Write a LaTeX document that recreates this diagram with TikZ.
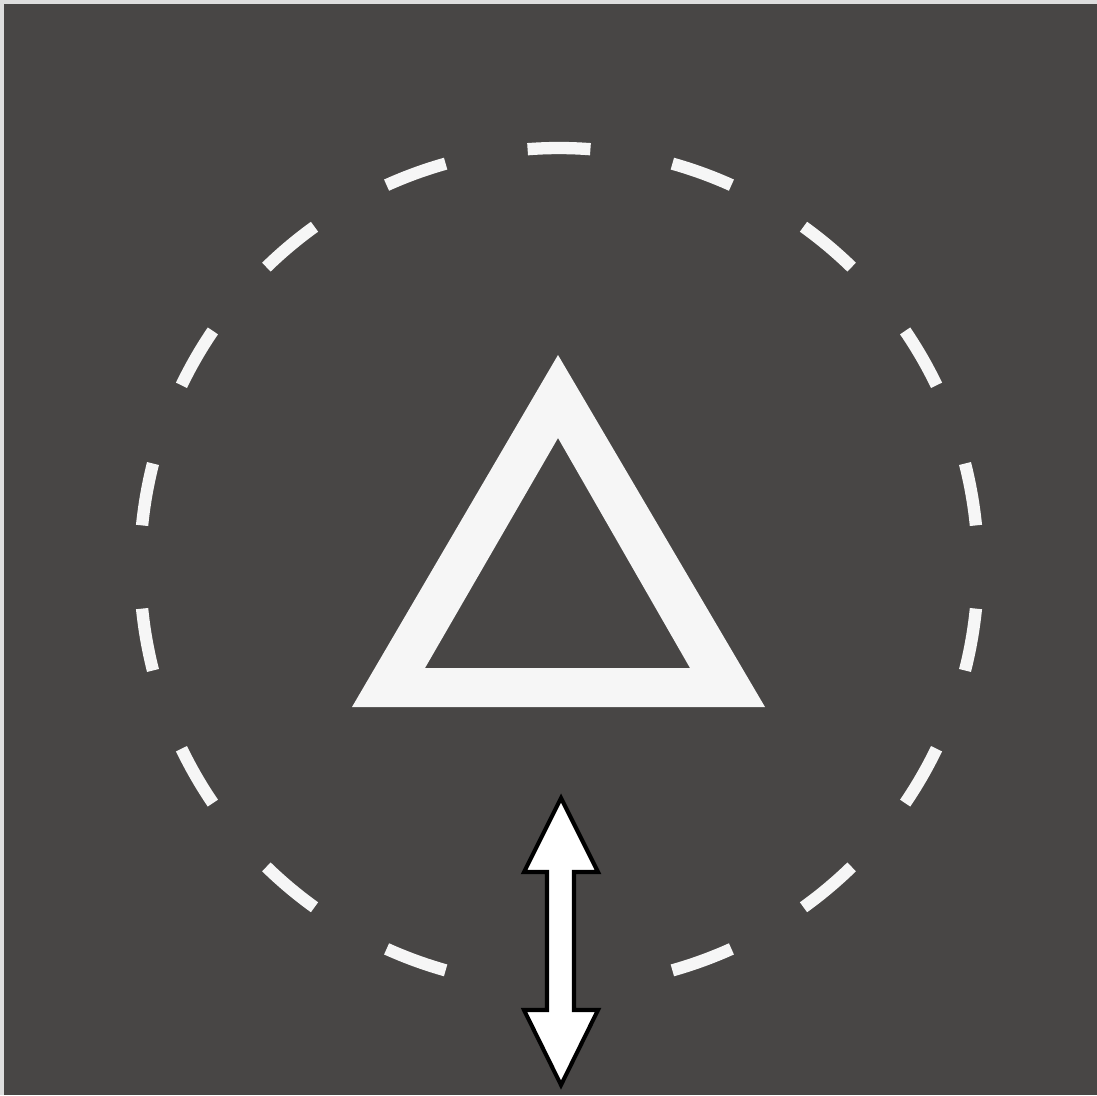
\documentclass[tikz,border=0pt]{standalone}
\usetikzlibrary{calc}
\definecolor{bgdark}{RGB}{72,70,69}
\definecolor{edgelight}{RGB}{222,222,222}
\definecolor{markwhite}{RGB}{246,246,246}
\tikzset{
  dashmark/.style={draw=markwhite, line width=7pt, line cap=butt},
  trimark/.style={fill=markwhite, even odd rule},
  arrowmark/.style={fill=white, draw=black, line width=2.3pt, line join=miter}
}
\begin{document}
\begin{tikzpicture}[x=0.02cm, y=-0.02cm]
  \useasboundingbox (0,0) rectangle (1097,1095);
  % frame edge and background
  \fill[edgelight] (0,0) rectangle (1097,1095);
  \fill[bgdark] (4,4) rectangle (1097,1095);
  % dashed circle: dashes every 20 degrees, none at the bottom
  \coordinate (c) at (559,567);
  \foreach \a in {10,30,...,250,290,310,330,350} {
    \draw[dashmark] ($(c)+({419*cos(\a-4.3)},{-419*sin(\a-4.3)})$)
      arc[start angle=-(\a-4.3), end angle=-(\a+4.3), radius=419];
  }
  % triangle
  \fill[trimark] (558,355) -- (765,707) -- (352,707) -- cycle
                 (558,438) -- (690,668) -- (425,668) -- cycle;
  % double-headed arrow
  \filldraw[arrowmark] (561,798) -- (598,872) -- (574,872) -- (574,1010)
     -- (598,1010) -- (561,1085) -- (524,1010) -- (547,1010)
     -- (547,872) -- (524,872) -- cycle;
\end{tikzpicture}
\end{document}
